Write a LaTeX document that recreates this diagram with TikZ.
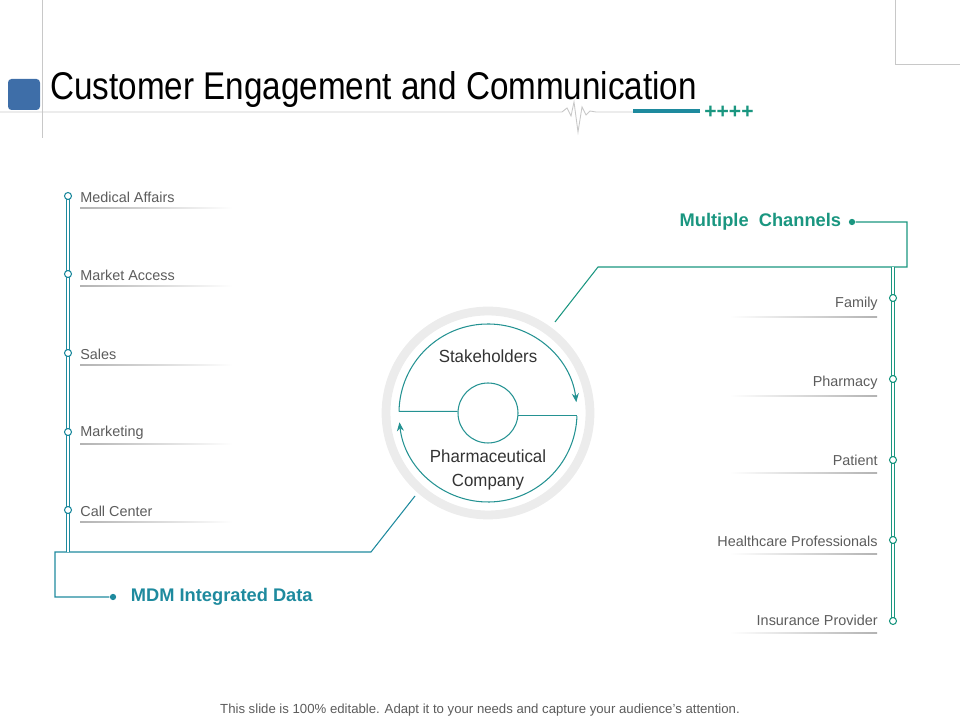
\documentclass[tikz,border=0pt]{standalone}
\usepackage{fontspec}
\setmainfont{Liberation Sans}
\newfontfamily\narrowfont[FakeStretch=0.86]{Liberation Sans}
\newfontfamily\circlefont[FakeStretch=0.96]{Liberation Sans}
\usetikzlibrary{positioning}
\usetikzlibrary{arrows.meta}
\definecolor{leftteal}{RGB}{30,138,158}
\definecolor{rightteal}{RGB}{26,150,128}
\definecolor{arcteal}{RGB}{36,146,146}
\definecolor{ringgray}{RGB}{236,236,236}
\definecolor{titleblue}{RGB}{62,110,168}
\definecolor{labelgray}{RGB}{92,92,92}
\definecolor{rulegray}{RGB}{200,200,200}

\begin{document}
\begin{tikzpicture}[x=0.02cm, y=0.02cm,
    lbl/.style={font=\fontsize{8.2}{10}\selectfont, text=labelgray, inner sep=0pt},
    head/.style={font=\bfseries\fontsize{10.4}{12}\selectfont, inner sep=0pt},
    port/.style={circle, draw=#1, fill=white, line width=0.6pt, minimum size=4pt, inner sep=0pt},
    dot/.style={circle, fill=#1, minimum size=3.6pt, inner sep=0pt},
    rail/.style={#1, line width=0.6pt, double=white, double distance=1.5pt},
    link/.style={#1, line width=0.6pt}]
    \useasboundingbox (0,0) rectangle (960,720);

    % Title bar
    \draw[rulegray, line width=0.4pt] (42,720) -- (42,582);
    \draw[rulegray, line width=0.4pt] (960,656) -- (895,656) -- (895,720);
    \fill[titleblue, rounded corners=2pt] (8,610) rectangle (40,641);
    \node[font=\narrowfont\fontsize{22}{26}\selectfont, anchor=base west, inner sep=0pt] (title) at (50,620) {Customer Engagement and Communication};
    \draw[rulegray, line width=0.5pt] (0,608) -- (562,608) -- (567,612) -- (571,604) -- (574,618)
        -- (578,588) -- (582,613) -- (586,605) -- (590,609) -- (596,608) -- (633,608);
    \draw[leftteal, line width=1.8pt] (633,609) -- (700,609);
    \node[font=\bfseries\fontsize{12}{13}\selectfont, text=rightteal, anchor=west, inner sep=0pt] (plus) at (704,608) {++++};

    % Hub
    \node[circle, draw=ringgray, line width=5pt, minimum size=4.08cm] (hub) at (488,307) {};
    \node[circle, draw=arcteal, line width=0.6pt, minimum size=1.2cm] (core) at (hub) {};
    \draw[arcteal, line width=0.6pt, -{Stealth[length=5pt, width=4pt]}] (hub.center) ++(179:89) arc[start angle=179, end angle=7, radius=89];
    \draw[arcteal, line width=0.6pt, -{Stealth[length=5pt, width=4pt]}] (hub.center) ++(-2:89) arc[start angle=-2, end angle=-174, radius=89];
    \draw[arcteal, line width=0.6pt] (hub.center) ++(179:89) -- (core.177);
    \draw[arcteal, line width=0.6pt] (core.-5) -- ++(59,0);
    \node[font=\circlefont\fontsize{10}{13}\selectfont, text=black!80] (stake) at (488,364) {Stakeholders};
    \node[font=\circlefont\fontsize{10}{13.2}\selectfont, text=black!80, align=center] (pharma) at (488,250) {Pharmaceutical\\Company};

    % Multiple Channels
    \node[dot=rightteal] (mcdot) at (852,498) {};
    \node[head, text=rightteal, left=4pt of mcdot] (mc) {Multiple\ \ Channels};
    \coordinate (hubne) at (555,398);
    \draw[link=rightteal] (hubne) -- (598,453) -- (907,453) |- (mcdot);
    \draw[rail=rightteal] (893,453) -- (893,99);
    \foreach \txt/\p/\y [count=\i] in {Family/422/416, Pharmacy/341/337, Patient/260/260,
        Healthcare Professionals/180/179, Insurance Provider/99/100} {
        \shade[left color=white, right color=black!30] (730,\y-13.5) rectangle (877,\y-12.5);
        \node[lbl, anchor=east] (r\i) at (878,\y) {\txt};
        \node[port=rightteal] (rp\i) at (893,\p) {};
    }

    % MDM Integrated Data
    \node[dot=leftteal] (mdmdot) at (113,123) {};
    \node[head, text=leftteal, right=8pt of mdmdot] (mdm) {MDM Integrated Data};
    \coordinate (hubsw) at (415,224);
    \draw[link=leftteal] (hubsw) -- (371,168) -- (55,168) |- (mdmdot);
    \draw[rail=leftteal] (68,524) -- (68,168);
    \foreach \txt/\y [count=\i] in {Medical Affairs/524, Market Access/446, Sales/367,
        Marketing/288, Call Center/210} {
        \shade[left color=black!30, right color=white] (80,\y-12.5) rectangle (232,\y-11.5);
        \node[lbl, anchor=west] (l\i) at (80,\y-1) {\txt};
        \node[port=leftteal] (lp\i) at (68,\y) {};
    }

    % Footer
    \node[font=\fontsize{7.5}{9}\selectfont, text=labelgray] (foot) at (480,10) {This slide is 100\% editable. Adapt it to your needs and capture your audience's attention.};
\end{tikzpicture}
\end{document}
